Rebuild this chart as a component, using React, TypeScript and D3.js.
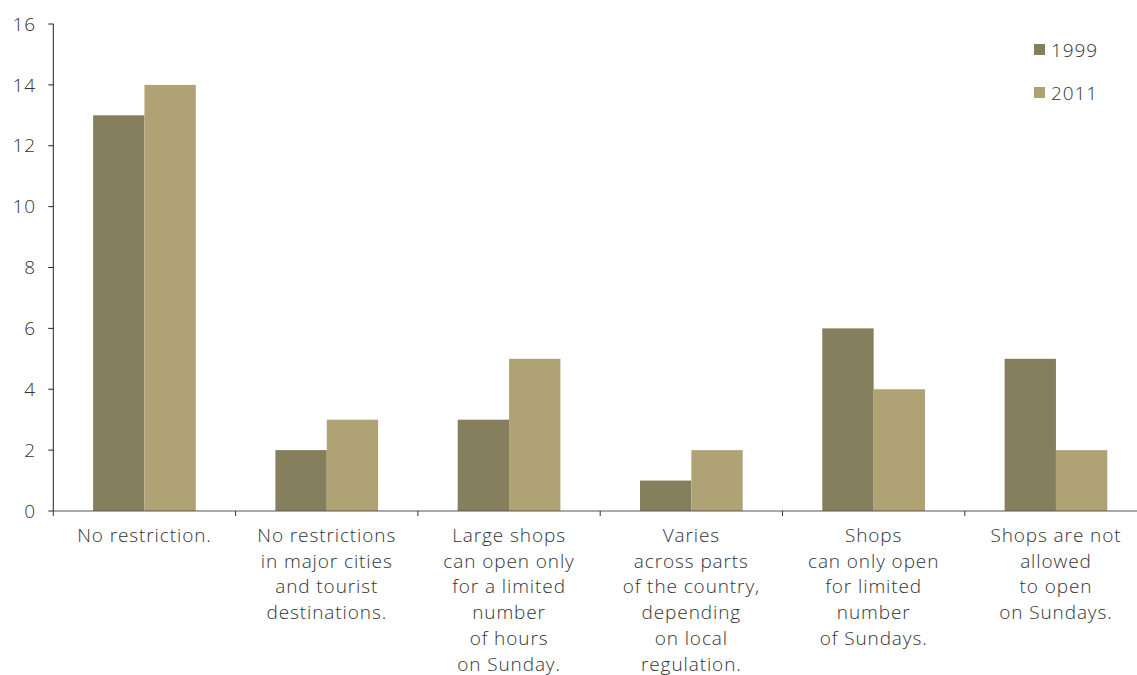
import React from "react";
import * as d3 from "d3";

const categories: string[][] = [
  ["No restriction."],
  ["No restrictions", "in major cities", "and tourist", "destinations."],
  ["Large shops", "can open only", "for a limited", "number", "of hours", "on Sunday."],
  ["Varies", "across parts", "of the country,", "depending", "on local", "regulation."],
  ["Shops", "can only open", "for limited", "number", "of Sundays."],
  ["Shops are not", "allowed", "to open", "on Sundays."],
];
const series = ["1999", "2011"];
const values1999 = [13, 2, 3, 1, 6, 5];
const values2011 = [14, 3, 5, 2, 4, 2];
const yTicks = [0, 2, 4, 6, 8, 10, 12, 14, 16];
const colors = ["#867F5D", "#AFA376"];

const W = 1137;
const H = 675;
const left = 53.3;
const top = 24;
const bottom = 511;
const bandW = 182.3;

export default function App() {
  const idx = categories.map((_, i) => String(i));
  const x = d3.scaleBand<string>().domain(idx).range([left, left + bandW * 6]).paddingInner(0).paddingOuter(0);
  const inner = d3.scaleBand<string>().domain(series).range([0, x.bandwidth()]).paddingOuter(0.775).paddingInner(0);
  const y = d3.scaleLinear().domain([0, 16]).range([bottom, top]);
  const data = [values1999, values2011];
  const font = "'Open Sans', sans-serif";
  const ls = 0.9;
  return (
    <svg width={W} height={H} style={{ position: "absolute", left: 0, top: 0, background: "#fff" }}>
      {idx.map((c, i) => (
        <g key={c}>
          {series.map((s, si) => (
            <rect
              key={s}
              x={(x(c) as number) + (inner(s) as number)}
              y={y(data[si][i])}
              width={inner.bandwidth()}
              height={y(0) - y(data[si][i])}
              fill={colors[si]}
            />
          ))}
        </g>
      ))}
      {/* y axis */}
      <line x1={left} x2={left} y1={top} y2={bottom} stroke="#222" strokeWidth={1} />
      {yTicks.map((t) => (
        <g key={t}>
          <line x1={left - 5} x2={left} y1={y(t)} y2={y(t)} stroke="#222" />
          <text x={36} y={y(t)} dy="0.35em" textAnchor="end" fontFamily={font} fontWeight={300} fontSize={19} letterSpacing={ls} fill="#333">
            {t}
          </text>
        </g>
      ))}
      {/* x axis */}
      <line x1={left} x2={left + bandW * 6} y1={bottom} y2={bottom} stroke="#555" strokeWidth={1} />
      {idx.map((c) => (
        <line key={"t" + c} x1={x(c) as number} x2={x(c) as number} y1={bottom} y2={bottom + 5} stroke="#333" />
      ))}
      {idx.map((c, i) => (
        <text
          key={"l" + c}
          x={(x(c) as number) + x.bandwidth() / 2}
          y={542}
          textAnchor="middle"
          fontFamily={font}
          fontWeight={300}
          fontSize={19}
          letterSpacing={ls}
          fill="#333"
        >
          {categories[i].map((line, li) => (
            <tspan key={li} x={(x(c) as number) + x.bandwidth() / 2} dy={li === 0 ? 0 : 25.7}>
              {line}
            </tspan>
          ))}
        </text>
      ))}
      {/* legend */}
      {series.map((s, si) => (
        <g key={"lg" + s} transform={`translate(1034, ${44 + si * 43})`}>
          <rect x={0} y={0} width={11} height={11} fill={colors[si]} />
          <text x={17} y={13} fontFamily={font} fontWeight={300} fontSize={19} letterSpacing={ls} fill="#333">
            {s}
          </text>
        </g>
      ))}
    </svg>
  );
}
